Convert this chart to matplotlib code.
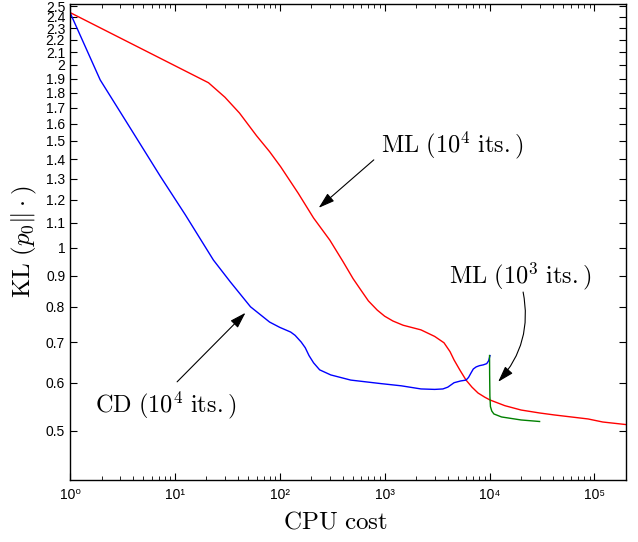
import numpy as np
import matplotlib
matplotlib.use("Agg")
import matplotlib.pyplot as plt
from matplotlib.ticker import FixedLocator, FixedFormatter, LogLocator, NullFormatter, NullLocator

plt.rcParams["mathtext.fontset"] = "cm"
plt.rcParams["font.family"] = ["Liberation Sans", "DejaVu Sans"]

# ML, 10^4 iterations (red)
ml4_cost = [1, 20.9, 30, 41.3, 60, 80, 102, 150, 210, 300, 400, 500, 600, 700, 850, 1000, 1200,
            1500, 2220, 3000, 3680, 4200, 4590, 5200, 5970, 6800, 7770, 9000, 10100, 14000,
            20000, 30000, 41500, 60000, 87000, 120000, 200000]
ml4_kl = [2.44, 1.87, 1.77, 1.667, 1.53, 1.44, 1.36, 1.23, 1.12, 1.03, 0.95, 0.89, 0.85, 0.818,
          0.79, 0.772, 0.758, 0.746, 0.733, 0.715, 0.698, 0.675, 0.654, 0.63, 0.606, 0.59,
          0.577, 0.568, 0.562, 0.55, 0.541, 0.535, 0.531, 0.527, 0.523, 0.517, 0.512]

# CD, 10^4 iterations (blue)
cd4_cost = [1, 1.94, 3.36, 7.3, 12.6, 23.3, 33.8, 52.6, 80, 100, 127, 140, 160, 175, 190, 210,
            240, 306, 475, 920, 1440, 2220, 3000, 3590, 4000, 4590, 5300, 5970, 6300, 6670,
            7000, 7450, 8000, 8720, 9400, 9800, 10100]
cd4_kl = [2.44, 1.89, 1.624, 1.31, 1.133, 0.955, 0.879, 0.80, 0.755, 0.74, 0.727, 0.718, 0.70,
          0.685, 0.665, 0.647, 0.63, 0.618, 0.606, 0.598, 0.593, 0.586, 0.585, 0.586, 0.59,
          0.60, 0.604, 0.606, 0.612, 0.623, 0.632, 0.637, 0.64, 0.642, 0.645, 0.652, 0.665]

# ML, 10^3 iterations (green)
ml3_cost = [10000, 10020, 10080, 10200, 10500, 11000, 13000, 20000, 30000]
ml3_kl = [0.665, 0.62, 0.57, 0.548, 0.539, 0.533, 0.527, 0.521, 0.518]

ytick_vals = [0.5, 0.6, 0.7, 0.8, 0.9, 1.0, 1.1, 1.2, 1.3, 1.4, 1.5, 1.6, 1.7, 1.8, 1.9,
              2.0, 2.1, 2.2, 2.3, 2.4, 2.5]
ytick_labels = ["0.5", "0.6", "0.7", "0.8", "0.9", "1", "1.1", "1.2", "1.3", "1.4", "1.5",
                "1.6", "1.7", "1.8", "1.9", "2", "2.1", "2.2", "2.3", "2.4", "2.5"]
xtick_vals = [1, 10, 100, 1000, 10000, 100000]
xtick_labels = ["10⁰", "10¹", "10²", "10³", "10⁴", "10⁵"]

fig = plt.figure(figsize=(6.38, 5.42), dpi=100)
ax = fig.add_axes([70 / 638, 62 / 542, 556 / 638, 476 / 542])

ax.plot(ml4_cost, ml4_kl, color="#ff0000", lw=1.0)
ax.plot(cd4_cost, cd4_kl, color="#0000ff", lw=1.0)
ax.plot(ml3_cost, ml3_kl, color="#008000", lw=1.0)

ax.set_xscale("log")
ax.set_yscale("log")
ax.set_xlim(1, 2e5)
ax.set_ylim(0.415, 2.52)

ax.xaxis.set_major_locator(FixedLocator(xtick_vals))
ax.xaxis.set_major_formatter(FixedFormatter(xtick_labels))
ax.xaxis.set_minor_locator(LogLocator(base=10, subs=np.arange(2, 10), numticks=20))
ax.xaxis.set_minor_formatter(NullFormatter())
ax.yaxis.set_major_locator(FixedLocator(ytick_vals))
ax.yaxis.set_major_formatter(FixedFormatter(ytick_labels))
ax.yaxis.set_minor_locator(NullLocator())

ax.tick_params(which="both", direction="in", top=True, right=True, labelsize=10)
ax.tick_params(which="major", length=5, width=0.8)
ax.tick_params(which="minor", length=3, width=0.6)
ax.tick_params(axis="x", pad=6)
for s in ax.spines.values():
    s.set_linewidth(1.0)

ax.set_xlabel(r"$\mathrm{CPU\ cost}$", fontsize=18)
ax.xaxis.set_label_coords(0.478, -0.063)
ax.set_ylabel(r"$\mathrm{KL}\ (p_0\Vert\cdot)$", fontsize=18)
ax.yaxis.set_label_coords(-0.056, 0.5)

# annotations
txt_kw = dict(fontsize=17.5, ha="left", va="center")
arr_kw = dict(arrowstyle="-|>,head_length=0.7,head_width=0.22", color="black", lw=0.8,
              mutation_scale=14, shrinkA=0, shrinkB=0)

ax.text(920, 1.477, r"$\mathrm{ML\ (10^4\ its.)}$", **txt_kw)
ax.annotate("", xy=(235, 1.164), xytext=(788, 1.396), arrowprops=arr_kw)

ax.text(4110, 0.899, r"$\mathrm{ML\ (10^3\ its.)}$", **txt_kw)
ax.annotate("", xy=(12080, 0.602), xytext=(20900, 0.846),
            arrowprops=dict(arr_kw, connectionstyle="arc3,rad=-0.25"))

ax.text(1.73, 0.552, r"$\mathrm{CD\ (10^4\ its.)}$", **txt_kw)
ax.annotate("", xy=(47.1, 0.782), xytext=(10.5, 0.602), arrowprops=arr_kw)

fig.savefig("out.png", dpi=100)
